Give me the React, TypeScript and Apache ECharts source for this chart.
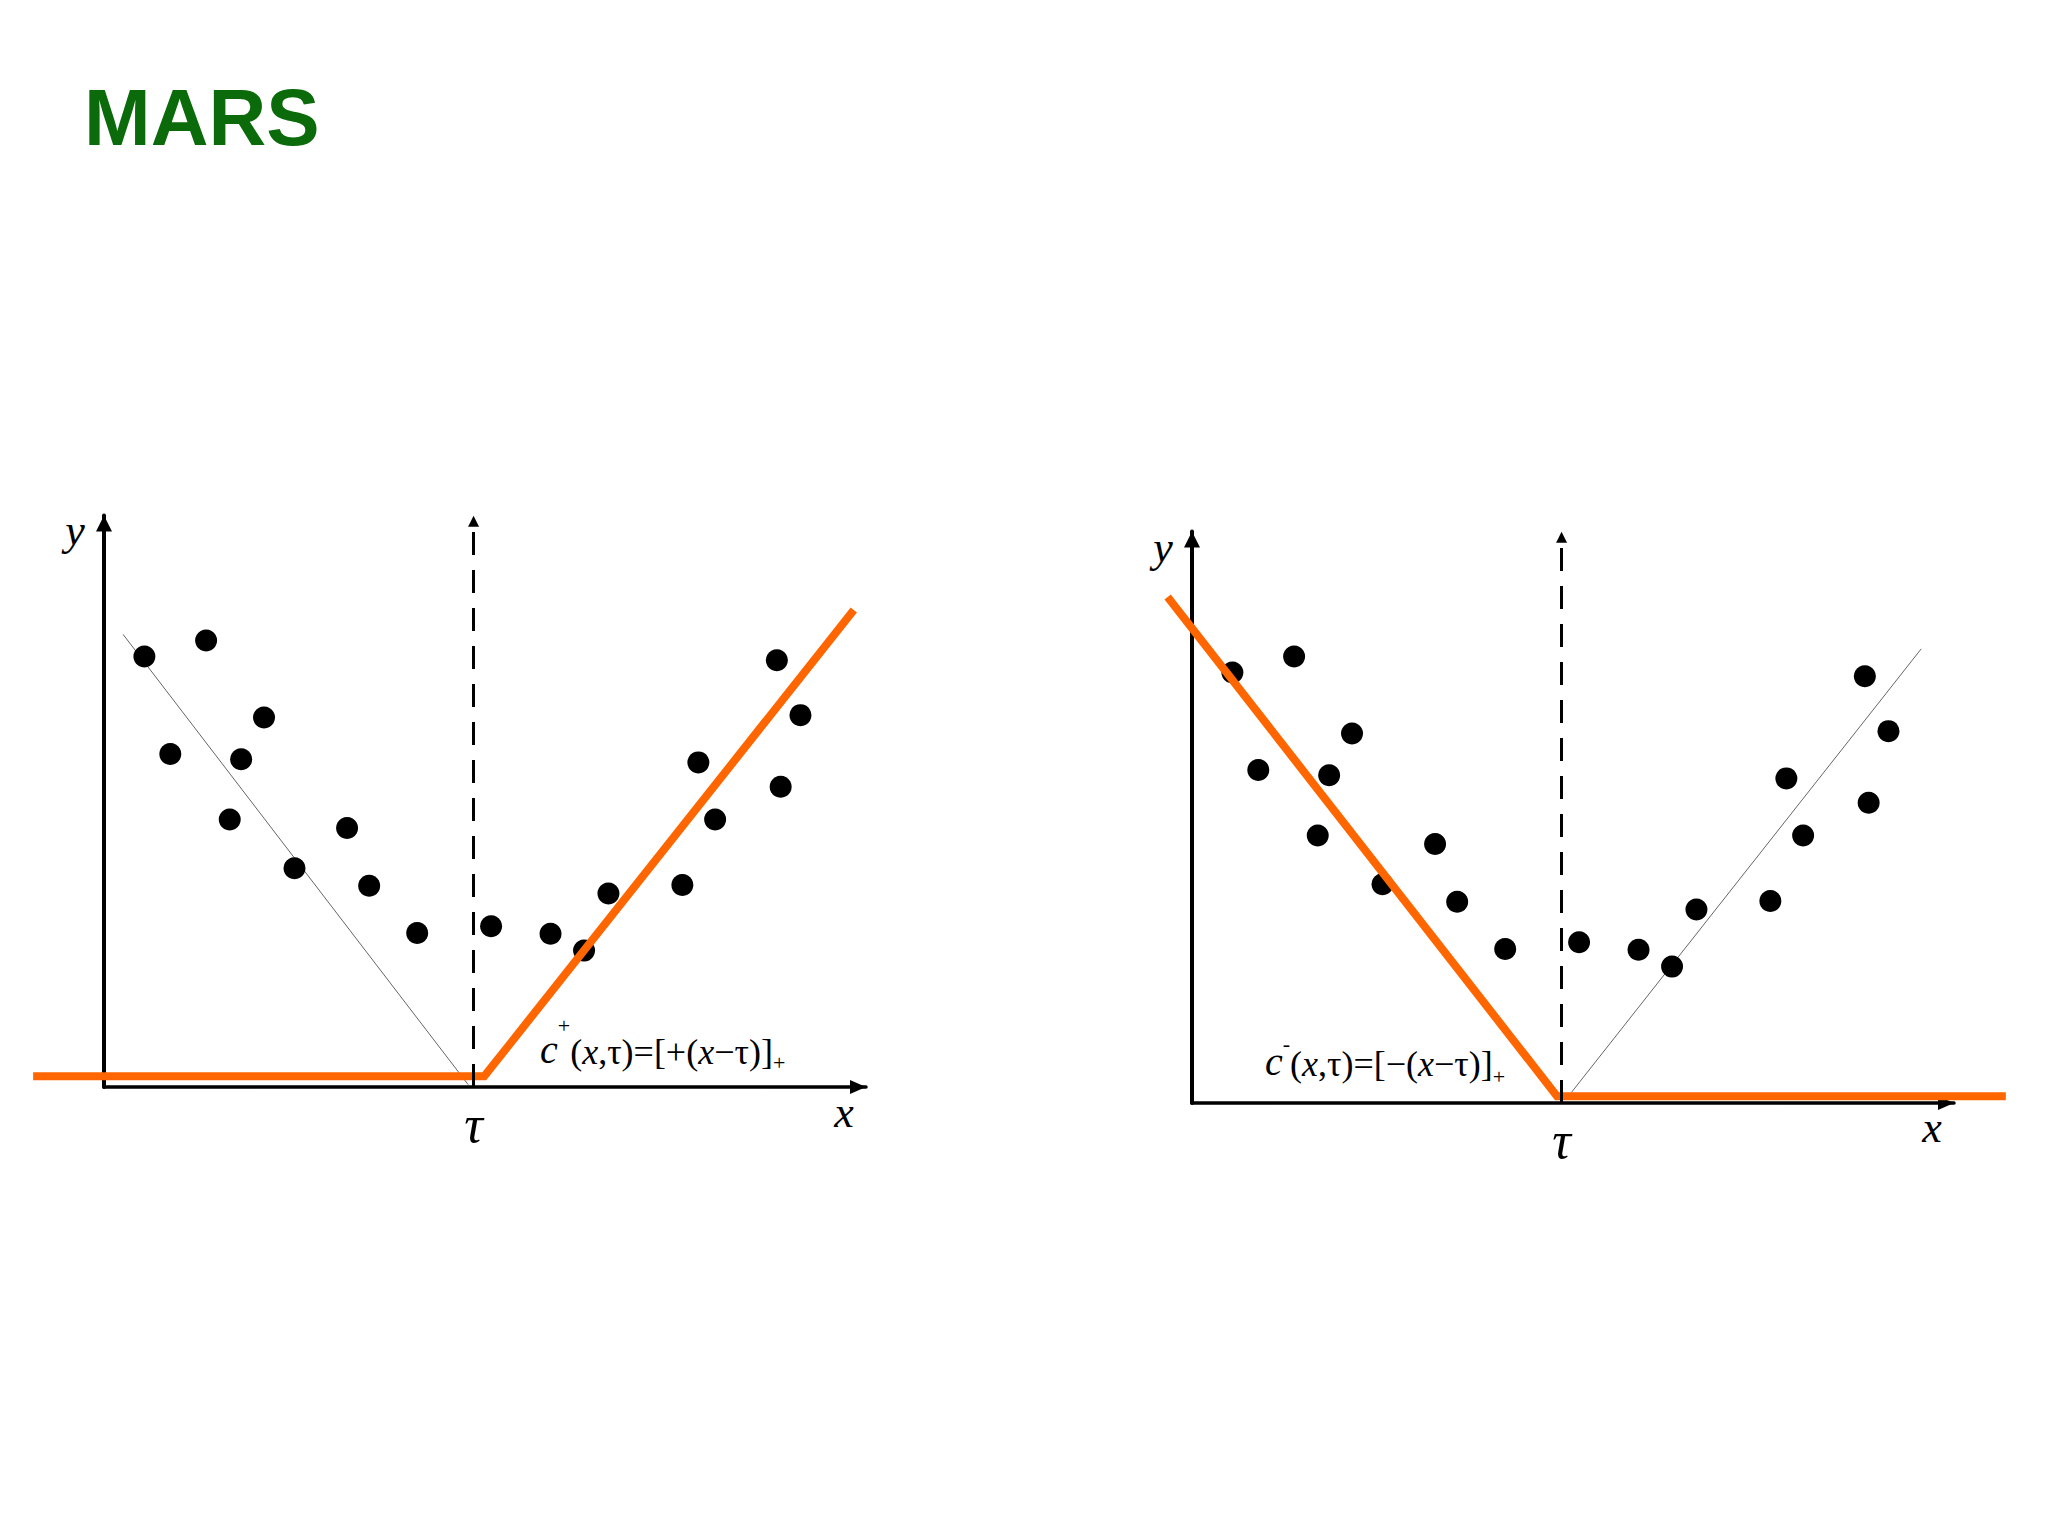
import React, { useEffect, useRef } from 'react';
import * as echarts from 'echarts';

// ---------- data ----------
const TITLE = 'MARS';
const POINT_X = [5.3, 13.4, 8.7, 21.0, 18.0, 16.5, 25.0, 31.9, 34.8, 41.1, 50.8, 58.6, 63.0, 66.2, 75.9, 78.0, 80.2, 88.3, 91.4, 88.8];
const POINT_Y = [56.5, 58.6, 43.7, 48.5, 43.0, 35.1, 28.7, 34.0, 26.4, 20.2, 21.1, 20.1, 17.9, 25.4, 26.5, 42.6, 35.1, 56.0, 48.8, 39.4];
const TAU = 48.5;
const X_MAX = 100;
const Y_MAX = 75;
// wider hidden axis range used for the hinge lines, which run past the drawn axes
const WIDE_X_MIN = -12;
const WIDE_X_MAX = 112;
const TAU_LABEL = 'τ';
const X_NAME = 'x';
const Y_NAME = 'y';

// hinge c+(x,τ) (left panel)
const HINGE_PLUS_X = [-9.3, 49.9, 98.4];
const HINGE_PLUS_Y = [1.4, 1.4, 62.6];
// thin guide line, left panel
const GUIDE_LEFT_X = [2.5, 47.8];
const GUIDE_LEFT_Y = [59.4, 0.3];

// hinge c-(x,τ) (right panel)
const HINGE_MINUS_X = [-3.2, 47.9, 106.8];
const HINGE_MINUS_Y = [66.4, 0.9, 0.9];
// thin guide line, right panel
const GUIDE_RIGHT_X = [49.8, 95.7];
const GUIDE_RIGHT_Y = [1.4, 59.6];

const FORMULA_PLUS = '{c|c}{sup|+}{r|(}{i|x}{r|,τ)=[+(}{i|x}{r|−τ)]}{sub|+}';
const FORMULA_MINUS = '{c|c}{sup|-}{r|(}{i|x}{r|,τ)=[−(}{i|x}{r|−τ)]}{sub|+}';

const ORANGE = '#FF6600';
const SERIF = '"Liberation Serif", "Times New Roman", serif';
const PX_PER_UNIT = 7.62;

const zip = (xs: number[], ys: number[]) => xs.map((x, i) => [x, ys[i]]);

const PANELS = [
  {
    left: 104, top: 515.5, hingeX: HINGE_PLUS_X, hingeY: HINGE_PLUS_Y, guideX: GUIDE_LEFT_X, guideY: GUIDE_LEFT_Y,
    xName: [844, 1112], yName: [75, 530],
    formula: { text: FORMULA_PLUS, x: 540, y: 1014, supPad: [0, 0, 37, 0], basePad: 3.5 },
  },
  {
    left: 1192, top: 531.5, hingeX: HINGE_MINUS_X, hingeY: HINGE_MINUS_Y, guideX: GUIDE_RIGHT_X, guideY: GUIDE_RIGHT_Y,
    xName: [1932, 1127], yName: [1163, 547],
    formula: { text: FORMULA_MINUS, x: 1265, y: 1032, supPad: [0, 0, 33, 0], basePad: 5.5 },
  },
];

export default function App() {
  const ref = useRef<HTMLDivElement>(null);
  useEffect(() => {
    if (!ref.current) return;
    const chart = echarts.init(ref.current, undefined, { renderer: 'svg' });
    const w = X_MAX * PX_PER_UNIT;
    const h = Y_MAX * PX_PER_UNIT;
    const n = PANELS.length;

    const grid: any[] = PANELS.map((p) => ({ left: p.left, top: p.top, width: w, height: h, containLabel: false }));
    PANELS.forEach((p) => {
      grid.push({
        left: p.left + WIDE_X_MIN * PX_PER_UNIT, top: p.top,
        width: (WIDE_X_MAX - WIDE_X_MIN) * PX_PER_UNIT, height: h, containLabel: false,
      });
    });

    const xAxis: any[] = PANELS.map((_, i) => ({
      gridIndex: i, type: 'value', min: 0, max: X_MAX,
      axisLine: { show: true, onZero: false, symbol: ['none', 'triangle'], symbolSize: [14, 16], symbolOffset: [0, -8], lineStyle: { color: '#000', width: 3.5 } },
      axisTick: { show: false },
      splitLine: { show: false },
      axisLabel: {
        show: true, customValues: [TAU], formatter: () => TAU_LABEL, margin: 37, verticalAlign: 'middle',
        fontFamily: SERIF, fontStyle: 'italic', fontSize: 52, color: '#000',
      },
    }));
    const yAxis: any[] = PANELS.map((_, i) => ({
      gridIndex: i, type: 'value', min: 0, max: Y_MAX,
      axisLine: { show: true, onZero: false, symbol: ['none', 'triangle'], symbolSize: [16, 16], symbolOffset: [0, -8], lineStyle: { color: '#000', width: 4 } },
      axisTick: { show: false },
      splitLine: { show: false },
      axisLabel: { show: false },
    }));
    PANELS.forEach((_, i) => {
      xAxis.push({ gridIndex: n + i, type: 'value', min: WIDE_X_MIN, max: WIDE_X_MAX, show: false });
      yAxis.push({ gridIndex: n + i, type: 'value', min: 0, max: Y_MAX, show: false });
    });

    const series: any[] = [];
    PANELS.forEach((p, i) => {
      series.push({
        type: 'line', xAxisIndex: i, yAxisIndex: i, data: zip(p.guideX, p.guideY),
        showSymbol: false, symbol: 'none', lineStyle: { color: '#666', width: 1 }, silent: true, z: 1,
        markLine: {
          silent: true, symbol: ['none', 'triangle'], symbolSize: [11, 11],
          label: { show: false },
          lineStyle: { color: '#000', width: 3, type: [23, 15] },
          data: [[{ coord: [TAU, 0] }, { coord: [TAU, Y_MAX - 0.75] }]],
        },
      });
      series.push({
        type: 'scatter', xAxisIndex: i, yAxisIndex: i, data: zip(POINT_X, POINT_Y),
        symbol: 'circle', symbolSize: 22, itemStyle: { color: '#000', opacity: 1 }, z: 2,
      });
      series.push({
        type: 'line', xAxisIndex: n + i, yAxisIndex: n + i, data: zip(p.hingeX, p.hingeY), clip: false,
        showSymbol: false, symbol: 'none', lineStyle: { color: ORANGE, width: 8, join: 'miter', opacity: 1 }, z: 3,
      });
    });

    const graphic: any[] = [
      { type: 'text', x: 84, y: 117, style: { text: TITLE, font: 'bold 80px "Liberation Sans", Arial, sans-serif', fill: '#0B6B0B', align: 'left', verticalAlign: 'middle' } },
    ];
    PANELS.forEach((p) => {
      graphic.push({ type: 'text', x: p.xName[0], y: p.xName[1], style: { text: X_NAME, font: `italic 44px ${SERIF}`, fill: '#000', align: 'center', verticalAlign: 'middle' } });
      graphic.push({ type: 'text', x: p.yName[0], y: p.yName[1], style: { text: Y_NAME, font: `italic 44px ${SERIF}`, fill: '#000', align: 'center', verticalAlign: 'middle' } });
      const f = p.formula;
      const bp = [0, 0, f.basePad, 0];
      graphic.push({
        type: 'text', x: f.x, y: f.y,
        style: {
          text: f.text, fill: '#000', align: 'left', verticalAlign: 'top', font: `36px ${SERIF}`,
          rich: {
            c: { fontFamily: SERIF, fontSize: 40, fontStyle: 'italic', verticalAlign: 'bottom', padding: bp, fill: '#000' },
            sup: { fontFamily: SERIF, fontSize: 22, verticalAlign: 'top', padding: f.supPad, fill: '#000' },
            r: { fontFamily: SERIF, fontSize: 36, verticalAlign: 'bottom', padding: bp, fill: '#000' },
            i: { fontFamily: SERIF, fontSize: 36, fontStyle: 'italic', verticalAlign: 'bottom', padding: bp, fill: '#000' },
            sub: { fontFamily: SERIF, fontSize: 22, verticalAlign: 'bottom', fill: '#000' },
          },
        },
      });
    });

    chart.setOption({
      animation: false,
      backgroundColor: '#ffffff',
      grid, xAxis, yAxis, series, graphic,
    } as any);
    return () => chart.dispose();
  }, []);
  return <div ref={ref} style={{ position: 'absolute', left: 0, top: 0, width: 2048, height: 1536 }} />;
}
